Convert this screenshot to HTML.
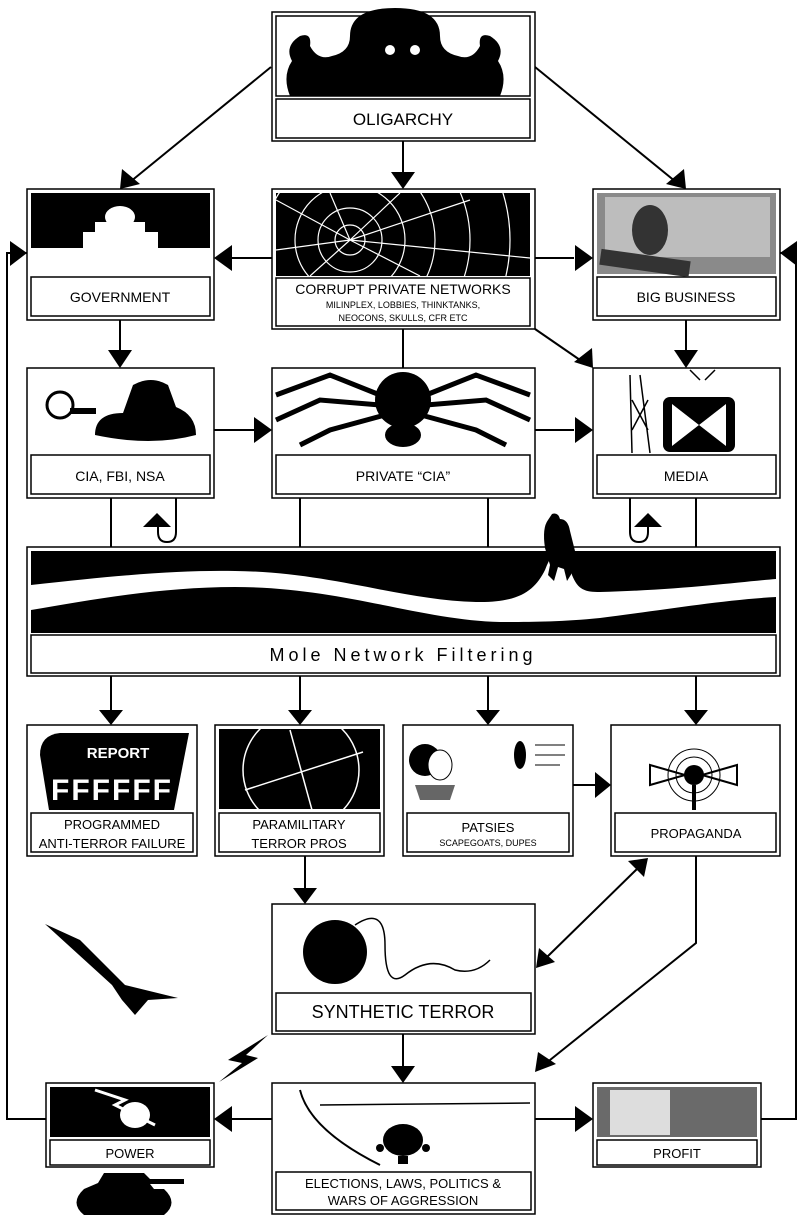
<!DOCTYPE html>
<html><head><meta charset="utf-8"><style>
html,body{margin:0;padding:0;background:#fff;}
svg{display:block;}
text{font-family:"Liberation Sans",sans-serif;fill:#000;}
</style></head><body>
<svg width="803" height="1220" viewBox="0 0 803 1220" xmlns="http://www.w3.org/2000/svg">
<defs>
<clipPath id="cw"><rect x="276" y="193" width="254" height="83"/></clipPath>
<clipPath id="cp"><rect x="219" y="729" width="161" height="80"/></clipPath>
</defs>
<g stroke="#000" stroke-width="2" fill="none">
<line x1="271" y1="67" x2="130" y2="182"/>
<line x1="535" y1="67" x2="676" y2="182"/>
<line x1="403" y1="141" x2="403" y2="172"/>
<line x1="272" y1="258" x2="232" y2="258"/>
<line x1="535" y1="258" x2="574" y2="258"/>
<line x1="535" y1="329" x2="580" y2="360"/>
<line x1="403" y1="329" x2="403" y2="368"/>
<line x1="120" y1="320" x2="120" y2="350"/>
<line x1="686" y1="320" x2="686" y2="350"/>
<line x1="214" y1="430" x2="254" y2="430"/>
<line x1="535" y1="430" x2="574" y2="430"/>
<polyline points="27,253 7,253 7,1119 46,1119"/>
<polyline points="780,253 796,253 796,1119 761,1119"/>
<line x1="111" y1="498" x2="111" y2="547"/>
<path d="M176,498 L176,532 Q176,542 167,542 Q158,542 158,532 L158,527"/>
<line x1="300" y1="498" x2="300" y2="547"/>
<line x1="488" y1="498" x2="488" y2="547"/>
<path d="M630,498 L630,532 Q630,542 639,542 Q648,542 648,532 L648,527"/>
<line x1="696" y1="498" x2="696" y2="547"/>
<line x1="111" y1="676" x2="111" y2="710"/>
<line x1="300" y1="676" x2="300" y2="710"/>
<line x1="488" y1="676" x2="488" y2="710"/>
<line x1="696" y1="676" x2="696" y2="710"/>
<line x1="573" y1="785" x2="595" y2="785"/>
<line x1="305" y1="856" x2="305" y2="888"/>
<line x1="638" y1="868" x2="546" y2="958"/>
<polyline points="696,856 696,943 545,1064"/>
<line x1="403" y1="1034" x2="403" y2="1066"/>
<line x1="272" y1="1119" x2="232" y2="1119"/>
<line x1="535" y1="1119" x2="575" y2="1119"/>
</g>
<g fill="#000">
<polygon points="120,189 122,169 140,184"/>
<polygon points="686,189 666,184 684,169"/>
<polygon points="391,172 415,172 403,189"/>
<polygon points="214,258 232,245 232,271"/>
<polygon points="593,258 575,245 575,271"/>
<polygon points="593,368 592,348 574,362"/>
<polygon points="108,350 132,350 120,368"/>
<polygon points="674,350 698,350 686,368"/>
<polygon points="272,430 254,417 254,443"/>
<polygon points="593,430 575,417 575,443"/>
<polygon points="27,253 10,241 10,266"/>
<polygon points="780,253 797,241 797,266"/>
<polygon points="157,513 143,527 171,527"/>
<polygon points="648,513 634,527 662,527"/>
<polygon points="99,710 123,710 111,725"/>
<polygon points="288,710 312,710 300,725"/>
<polygon points="476,710 500,710 488,725"/>
<polygon points="684,710 708,710 696,725"/>
<polygon points="611,785 595,772 595,798"/>
<polygon points="293,888 317,888 305,904"/>
<polygon points="648,858 628,861 644,877"/>
<polygon points="536,968 539,948 555,962"/>
<polygon points="535,1072 538,1052 556,1064"/>
<polygon points="391,1066 415,1066 403,1083"/>
<polygon points="214,1119 232,1106 232,1132"/>
<polygon points="593,1119 575,1106 575,1132"/>
<polygon points="45,924 80,940 125,985 178,998 148,1000 135,1015 122,1000 112,985"/>
<polygon points="268,1035 228,1060 242,1063 219,1082 258,1058 246,1055"/>
<path d="M98,1183 l6,-10 h40 l6,6 h34 v5 h-34 l4,5 h10 q15,14 0,26 h-80 q-15,-12 0,-26 z"/>
</g>
<g stroke="#000" stroke-width="1.5" fill="#fff">
<rect x="272" y="12" width="263" height="129"/>
<rect x="27" y="189" width="187" height="131"/>
<rect x="272" y="189" width="263" height="140"/>
<rect x="593" y="189" width="187" height="131"/>
<rect x="27" y="368" width="187" height="130"/>
<rect x="272" y="368" width="263" height="130"/>
<rect x="593" y="368" width="187" height="130"/>
<rect x="27" y="547" width="753" height="129"/>
<rect x="27" y="725" width="170" height="131"/>
<rect x="215" y="725" width="169" height="131"/>
<rect x="403" y="725" width="170" height="131"/>
<rect x="611" y="725" width="169" height="131"/>
<rect x="272" y="904" width="263" height="130"/>
<rect x="46" y="1083" width="168" height="84"/>
<rect x="272" y="1083" width="263" height="131"/>
<rect x="593" y="1083" width="168" height="84"/>
<rect x="276" y="16" width="254" height="80"/>
<rect x="276" y="99" width="254" height="39"/>
<rect x="31" y="277" width="179" height="39"/>
<rect x="276" y="278" width="254" height="48"/>
<rect x="597" y="277" width="179" height="39"/>
<rect x="31" y="455" width="179" height="39"/>
<rect x="276" y="455" width="254" height="39"/>
<rect x="597" y="455" width="179" height="39"/>
<rect x="31" y="635" width="745" height="38"/>
<rect x="31" y="813" width="162" height="39"/>
<rect x="219" y="813" width="161" height="39"/>
<rect x="407" y="813" width="162" height="39"/>
<rect x="615" y="813" width="161" height="39"/>
<rect x="276" y="993" width="255" height="38"/>
<rect x="50" y="1140" width="160" height="25"/>
<rect x="276" y="1172" width="255" height="38"/>
<rect x="597" y="1140" width="160" height="25"/>
</g>
<g fill="#000">
<path d="M290,96 q-8,-20 2,-35 q-8,-15 8,-25 q12,-4 10,10 q8,15 22,10 q18,-4 18,-20 q0,-28 45,-28 q45,0 45,28 q0,16 18,20 q14,5 22,-10 q-2,-14 10,-10 q16,10 8,25 q10,15 2,35 z"/>
<circle cx="390" cy="50" r="5" fill="#fff"/><circle cx="415" cy="50" r="5" fill="#fff"/>
<rect x="31" y="193" width="179" height="81"/>
<g fill="#fff"><rect x="31" y="248" width="179" height="26"/><rect x="83" y="232" width="75" height="20"/><rect x="95" y="222" width="50" height="12"/><ellipse cx="120" cy="217" rx="15" ry="11"/></g>
<rect x="276" y="193" width="254" height="83"/>
<g clip-path="url(#cw)" stroke="#fff" stroke-width="1.2" fill="none"><path d="M350,240 L276,200 M350,240 L330,193 M350,240 L400,193 M350,240 L470,200 M350,240 L530,258 M350,240 L420,276 M350,240 L310,276 M350,240 L276,250"/><circle cx="350" cy="240" r="15"/><circle cx="350" cy="240" r="32"/><circle cx="350" cy="240" r="55"/><circle cx="350" cy="240" r="85"/><circle cx="350" cy="240" r="120"/><circle cx="350" cy="240" r="160"/></g>
<rect x="597" y="193" width="179" height="81" fill="#8a8a8a"/>
<rect x="605" y="197" width="165" height="60" fill="#bdbdbd"/>
<ellipse cx="650" cy="230" rx="18" ry="25" fill="#333"/>
<rect x="600" y="255" width="90" height="16" fill="#333" transform="rotate(8 645 263)"/>
<circle cx="60" cy="405" r="13" fill="#fff" stroke="#000" stroke-width="3"/>
<rect x="70" y="408" width="26" height="6"/>
<path d="M95,435 q0,-22 28,-22 l10,-28 q18,-10 35,0 l8,22 q20,8 20,28 q-45,12 -101,0 z"/>
<ellipse cx="403" cy="400" rx="28" ry="28"/>
<ellipse cx="403" cy="435" rx="18" ry="12"/>
<g stroke="#000" stroke-width="5" fill="none"><path d="M380,395 L330,375 L276,395 M380,405 L320,400 L276,420 M385,415 L330,430 L300,445 M426,395 L476,375 L530,395 M426,405 L486,400 L530,420 M421,415 L476,430 L506,445"/></g>
<rect x="663" y="397" width="72" height="55" rx="7"/>
<path d="M672,404 L699,425 L672,446 z M726,404 L699,425 L726,446 z" fill="#fff"/>
<g stroke="#000" stroke-width="1.5" fill="none"><path d="M630,375 L632,453 M640,375 L650,453 M632,400 L648,430 M648,400 L632,430 M700,380 L690,370 M705,380 L715,370"/></g>
<!-- mole -->
<rect x="31" y="551" width="745" height="82"/>
<path d="M31,585 C120,575 180,570 235,571 C330,572 400,600 476,602 C520,603 535,590 545,570 Q552,551 560,551 Q568,551 572,575 C578,590 585,592 600,592 C680,590 740,582 776,579 V597 C720,600 650,612 600,618 C560,622 530,622 500,622 C420,620 340,587 235,587 C160,587 90,600 31,610 Z" fill="#fff"/>
<path d="M545,548 q-3,-20 3,-28 l4,-6 q6,-2 8,5 q8,0 10,12 l5,20 l-3,22 l-5,8 l-3,-12 l-6,-2 l-4,14 l-6,-6 l2,-10 z"/>
<path d="M31,755 q0,-20 20,-22 h129 l-15,77 h-125 z" transform="translate(9,0)"/>
<text x="118" y="758" font-size="15" font-weight="bold" style="fill:#fff" text-anchor="middle">REPORT</text>
<text x="112" y="800" font-size="30" font-weight="bold" style="fill:#fff" text-anchor="middle" letter-spacing="2">FFFFFF</text>
<rect x="219" y="729" width="161" height="80"/>
<g clip-path="url(#cp)" stroke="#fff" stroke-width="1.5" fill="none"><circle cx="301" cy="770" r="58"/><path d="M245,790 L363,752 M290,730 L312,810"/></g>
<circle cx="425" cy="760" r="16"/><ellipse cx="440" cy="765" rx="12" ry="15" fill="#fff" stroke="#000"/>
<path d="M415,785 h40 l-5,15 h-30 z" fill="#666"/>
<ellipse cx="520" cy="755" rx="6" ry="14"/>
<g stroke="#000" stroke-width="1"><path d="M535,745 h30 M535,755 h30 M535,765 h25"/></g>
<path d="M650,765 L685,775 L650,785 z M737,765 L702,775 L737,785 z" fill="#fff" stroke="#000" stroke-width="2"/>
<circle cx="694" cy="775" r="10"/>
<rect x="692" y="785" width="4" height="25"/>
<g stroke="#000" stroke-width="1" fill="none"><circle cx="694" cy="775" r="18"/><circle cx="694" cy="775" r="26"/></g>
<circle cx="335" cy="952" r="32"/>
<path d="M355,925 q30,-20 30,20 q0,45 20,30 q25,-20 50,-5 q20,5 35,-10" stroke="#000" stroke-width="1.5" fill="none"/>
<rect x="50" y="1087" width="160" height="50"/>
<ellipse cx="135" cy="1115" rx="15" ry="13" fill="#fff"/>
<path d="M95,1090 l30,10 -10,5 40,20" stroke="#fff" stroke-width="3" fill="none"/>
<ellipse cx="403" cy="1140" rx="20" ry="16"/>
<path d="M320,1105 L530,1103" stroke="#000" stroke-width="1.5"/>
<path d="M300,1090 q10,40 80,75" stroke="#000" stroke-width="2" fill="none"/>
<circle cx="380" cy="1148" r="4"/><circle cx="426" cy="1148" r="4"/><rect x="398" y="1156" width="10" height="8"/>
<rect x="597" y="1087" width="160" height="50" fill="#6a6a6a"/>
<rect x="610" y="1090" width="60" height="45" fill="#ddd"/>
</g>
<g text-anchor="middle">
<text x="403" y="125" font-size="17">OLIGARCHY</text>
<text x="120" y="302" font-size="14">GOVERNMENT</text>
<text x="403" y="294" font-size="14">CORRUPT PRIVATE NETWORKS</text>
<text x="403" y="308" font-size="9">MILINPLEX, LOBBIES, THINKTANKS,</text>
<text x="403" y="321" font-size="9">NEOCONS, SKULLS, CFR ETC</text>
<text x="686" y="302" font-size="14">BIG BUSINESS</text>
<text x="120" y="481" font-size="14">CIA, FBI, NSA</text>
<text x="403" y="481" font-size="14">PRIVATE “CIA”</text>
<text x="686" y="481" font-size="14">MEDIA</text>
<text x="403" y="661" font-size="18" letter-spacing="4">Mole Network Filtering</text>
<text x="112" y="829" font-size="13">PROGRAMMED</text>
<text x="112" y="848" font-size="13">ANTI-TERROR FAILURE</text>
<text x="299" y="829" font-size="13">PARAMILITARY</text>
<text x="299" y="848" font-size="13">TERROR PROS</text>
<text x="488" y="832" font-size="13">PATSIES</text>
<text x="488" y="846" font-size="9">SCAPEGOATS, DUPES</text>
<text x="696" y="838" font-size="13">PROPAGANDA</text>
<text x="403" y="1018" font-size="18">SYNTHETIC TERROR</text>
<text x="130" y="1158" font-size="13">POWER</text>
<text x="403" y="1188" font-size="13">ELECTIONS, LAWS, POLITICS &amp;</text>
<text x="403" y="1205" font-size="13">WARS OF AGGRESSION</text>
<text x="677" y="1158" font-size="13">PROFIT</text>
</g>
</svg>
</body></html>
